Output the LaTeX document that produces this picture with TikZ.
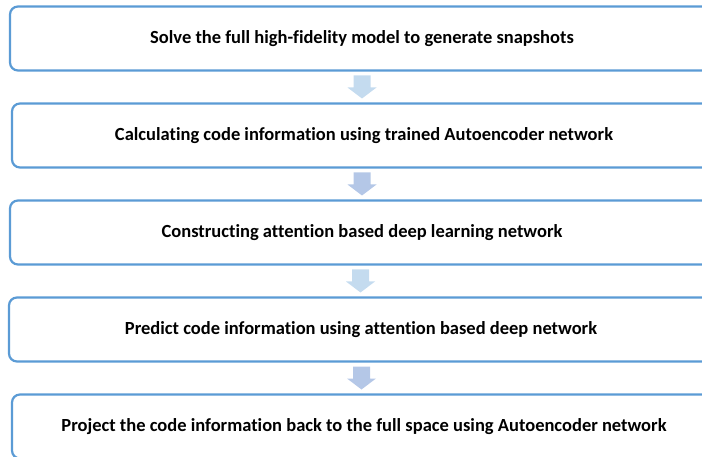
\documentclass[tikz,border=0pt]{standalone}
\usepackage{fontspec}
\setmainfont[Ligatures=NoCommon]{Carlito}
\usetikzlibrary{calc}
\definecolor{boxblue}{HTML}{5B9BD5}
\definecolor{arrowlight}{HTML}{C4DBEF}
\definecolor{arrowdark}{HTML}{B4C7E7}
\tikzset{
  stepbox/.style={draw=boxblue, line width=2.2pt, rounded corners=8pt, fill=white,
    minimum width=704pt, minimum height=64pt, inner sep=0pt,
    font=\fontsize{18.5}{20}\selectfont\bfseries, text=black},
  pics/blockarrow/.style={code={
    \fill (-8.5,-11.5) -- (8.5,-11.5) -- (8.5,0.5) -- (14.5,0.5) -- (0,11.5)
          -- (-14.5,0.5) -- (-8.5,0.5) -- cycle;}}
}
\begin{document}
\begin{tikzpicture}[x=1pt,y=-1pt]
\useasboundingbox (0,0) rectangle (702,457);
\clip (0,0) rectangle (702,457);
\node[stepbox] (b1) at (362,38.5) {Solve the full high-fidelity model to generate snapshots};
\node[stepbox] (b2) at (364,135.5) {Calculating code information using trained Autoencoder network};
\node[stepbox] (b3) at (362,232.5) {Constructing attention based deep learning network};
\node[stepbox] (b4) at (361,329.5) {Predict code information using attention based deep network};
\node[stepbox] (b5) at (364,426.5) {Project the code information back to the full space using Autoencoder network};
\coordinate (m1) at ($(b1.south)!0.5!(b2.north)$);
\coordinate (m2) at ($(b2.south)!0.5!(b3.north)$);
\coordinate (m3) at ($(b3.south)!0.5!(b4.north)$);
\coordinate (m4) at ($(b4.south)!0.5!(b5.north)$);
\pic[fill=arrowlight] at ([xshift=-1pt]m1) {blockarrow};
\pic[fill=arrowdark] at ([xshift=-1pt]m2) {blockarrow};
\pic[fill=arrowlight] at ([xshift=-1pt]m3) {blockarrow};
\pic[fill=arrowdark] at ([xshift=-1pt]m4) {blockarrow};
\end{tikzpicture}
\end{document}
